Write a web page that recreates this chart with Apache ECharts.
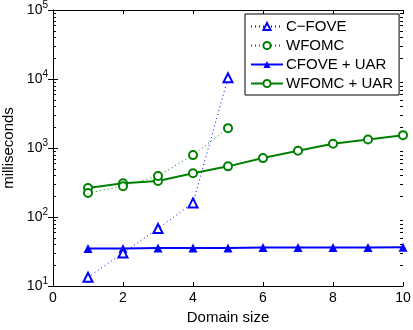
<!DOCTYPE html>
<html>
<head>
<meta charset="utf-8">
<style>
html, body { margin: 0; padding: 0; background: #fff; }
#chart { width: 413px; height: 330px; }
</style>
<script src="https://cdn.jsdelivr.net/npm/echarts@6/dist/echarts.min.js"></script>
</head>
<body>
<div id="chart"></div>
<script>
// domain sizes
const domainSizes = [1, 2, 3, 4, 5, 6, 7, 8, 9, 10]
const cfove = [13.4, 30, 68, 160, 10400]
const wfomc = [223, 279, 393, 789, 1940]
const cfoveUar = [35, 35, 35.5, 35.5, 35.5, 36, 36, 36, 36, 36.5]
const wfomcUar = [263, 308, 332, 430, 542, 714, 913, 1153, 1331, 1536]
const xTicks = [0, 2, 4, 6, 8, 10]
const yDecades = [1, 2, 3, 4, 5]

const font = 'Liberation Sans, Arial, sans-serif'

function pairs(xs, ys) {
  return ys.map((v, i) => [xs[i], v])
}

// minor log ticks 2..9 x 10^k
let minorVals = []
for (let k = 1; k < 5; k++) {
  for (let m = 2; m <= 9; m++) minorVals.push(m * Math.pow(10, k))
}

let myChart = echarts.init(document.getElementById('chart'))

const axisLineStyle = { color: '#000', width: 1 }

myChart.setOption({
  animation: false,
  textStyle: { fontFamily: font },
  grid: { left: 53, right: 10, top: 10, bottom: 44, outerBoundsMode: 'none' },
  legend: {
    orient: 'vertical',
    left: 245,
    top: 14,
    padding: [5, 6, 4, 5],
    itemGap: 4,
    itemWidth: 32,
    itemHeight: 9,
    backgroundColor: '#fff',
    borderColor: '#000',
    borderWidth: 1,
    textStyle: { fontFamily: font, fontSize: 15, lineHeight: 15, color: '#000', padding: [0, 0, 0, -2] },
    data: ['C\u2212FOVE', 'WFOMC', 'CFOVE + UAR', 'WFOMC + UAR']
  },
  xAxis: [
    {
      type: 'value', min: 0, max: 10, interval: 2,
      name: 'Domain size', nameLocation: 'middle', nameGap: 20,
      nameTextStyle: { fontFamily: font, fontSize: 15, color: '#000' },
      axisLine: { lineStyle: axisLineStyle },
      axisTick: { inside: true, length: 4, lineStyle: axisLineStyle },
      axisLabel: { fontFamily: font, fontSize: 14, color: '#000', margin: 5 },
      splitLine: { show: false }
    },
    {
      type: 'value', min: 0, max: 10, interval: 2, position: 'top',
      axisLine: { lineStyle: axisLineStyle },
      axisTick: { inside: true, length: 4, lineStyle: axisLineStyle },
      axisLabel: { show: false },
      splitLine: { show: false }
    }
  ],
  yAxis: [
    {
      type: 'log', min: 10, max: 100000, logBase: 10,
      name: 'milliseconds', nameLocation: 'middle', nameGap: 30,
      nameTextStyle: { fontFamily: font, fontSize: 15, color: '#000' },
      axisLine: { lineStyle: axisLineStyle },
      axisTick: { inside: true, length: 5, lineStyle: axisLineStyle },
      axisLabel: {
        margin: 5,
        formatter: function (v) {
          let e = Math.round(Math.log10(v))
          return '{b|10}{s|' + e + '}'
        },
        rich: {
          b: { fontFamily: font, fontSize: 14, color: '#000' },
          s: { fontFamily: font, fontSize: 10, color: '#000', padding: [0, 0, 9, 0] }
        }
      },
      splitLine: { show: false }
    },
    {
      type: 'log', min: 10, max: 100000, logBase: 10, position: 'right',
      axisLine: { lineStyle: axisLineStyle },
      axisTick: { inside: true, length: 5, lineStyle: axisLineStyle },
      axisLabel: { show: false },
      splitLine: { show: false }
    }
  ],
  series: [
    {
      name: 'C\u2212FOVE', type: 'line', data: pairs(domainSizes, cfove),
      symbol: 'emptyTriangle', symbolSize: 9, z: 3,
      lineStyle: { color: '#0000ff', width: 1, type: [1, 3] },
      itemStyle: { color: '#0000ff', borderColor: '#0000ff', borderWidth: 1.5 }
    },
    {
      name: 'WFOMC', type: 'line', data: pairs(domainSizes, wfomc),
      symbol: 'emptyCircle', symbolSize: 8, z: 3,
      lineStyle: { color: '#008000', width: 1, type: [1, 3] },
      itemStyle: { color: '#008000', borderColor: '#008000', borderWidth: 1.5 }
    },
    {
      name: 'CFOVE + UAR', type: 'line', data: pairs(domainSizes, cfoveUar),
      symbol: 'triangle', symbolSize: 9, z: 2,
      lineStyle: { color: '#0000ff', width: 2 },
      itemStyle: { color: '#0000ff' }
    },
    {
      name: 'WFOMC + UAR', type: 'line', data: pairs(domainSizes, wfomcUar),
      symbol: 'emptyCircle', symbolSize: 8, z: 2,
      lineStyle: { color: '#008000', width: 2 },
      itemStyle: { color: '#008000', borderColor: '#008000', borderWidth: 1.5 }
    },
    {
      // minor log ticks on left and right axes
      type: 'custom', silent: true, z: 1,
      data: minorVals,
      renderItem: function (params, api) {
        let v = api.value(0)
        let pl = api.coord([0, v])
        let pr = api.coord([10, v])
        let style = { stroke: '#000', lineWidth: 1 }
        let y = Math.round(pl[1]) + 0.5
        return {
          type: 'group',
          children: [
            { type: 'line', shape: { x1: pl[0], y1: y, x2: pl[0] + 3, y2: y }, style: style },
            { type: 'line', shape: { x1: pr[0], y1: y, x2: pr[0] - 3, y2: y }, style: style }
          ]
        }
      },
      encode: { y: 0 }
    }
  ]
})
</script>
</body>
</html>
